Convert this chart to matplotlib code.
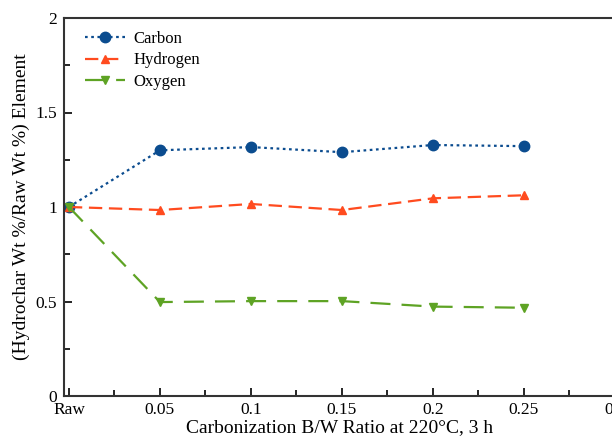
import matplotlib.pyplot as plt
from matplotlib.ticker import MultipleLocator

# data
ratio = [0.0, 0.05, 0.10, 0.15, 0.20, 0.25]
carbon = [1.00, 1.30, 1.317, 1.29, 1.328, 1.322]
hydrogen = [1.00, 0.984, 1.016, 0.984, 1.046, 1.062]
oxygen = [1.00, 0.497, 0.502, 0.502, 0.473, 0.467]
xticks = [0.0, 0.05, 0.10, 0.15, 0.20, 0.25, 0.30]
xlabels = ["Raw", "0.05", "0.1", "0.15", "0.2", "0.25", "0.3"]
yticks = [0, 0.5, 1, 1.5, 2]
ylabels = ["0", "0.5", "1", "1.5", "2"]

plt.rcParams['font.family'] = ['Liberation Serif', 'DejaVu Serif']

fig = plt.figure(figsize=(6.12, 4.43), dpi=100)
# right spine sits just past the image edge, like the cropped original
ax = fig.add_axes([64/612, 1 - 396/443, 551/612, 378/443])

ax.plot(ratio, carbon, color='#0b4c8f', linestyle=(0, (1.2, 1.6)), lw=1.6,
        marker='o', ms=7.5, label='Carbon')
ax.plot(ratio, hydrogen, color='#ff4b1f', linestyle=(0, (6, 3)), lw=1.6,
        marker='^', ms=6, label='Hydrogen')
ax.plot(ratio, oxygen, color='#5ea324', linestyle=(0, (9, 5)), lw=1.6,
        marker='v', ms=6, label='Oxygen')

ax.set_xlim(-0.0027, 0.3)
ax.set_ylim(0, 2)
ax.set_xticks(xticks)
ax.set_xticklabels(xlabels)
ax.set_yticks(yticks)
ax.set_yticklabels(ylabels)
ax.xaxis.set_minor_locator(MultipleLocator(0.025))
ax.yaxis.set_minor_locator(MultipleLocator(0.25))
ax.tick_params(which='both', direction='in', labelsize=12.5, width=1.2, top=False, right=False)
ax.tick_params(which='major', length=6)
ax.tick_params(which='minor', length=4)
ax.tick_params(axis='y', pad=5)
ax.tick_params(axis='x', pad=4)
for s in ax.spines.values():
    s.set_linewidth(1.5)
    s.set_color('#333333')

ax.set_xlabel('Carbonization B/W Ratio at 220°C, 3 h', fontsize=14, labelpad=1)
ax.set_ylabel('(Hydrochar Wt %/Raw Wt %) Element', fontsize=14, labelpad=4)

ax.legend(loc='upper left', frameon=False, fontsize=12, handlelength=2.4,
          handletextpad=0.5, borderaxespad=0.4, borderpad=0.5, labelspacing=0.32,
          bbox_to_anchor=(0.011, 1.005))

fig.savefig('out.png', dpi=100)
